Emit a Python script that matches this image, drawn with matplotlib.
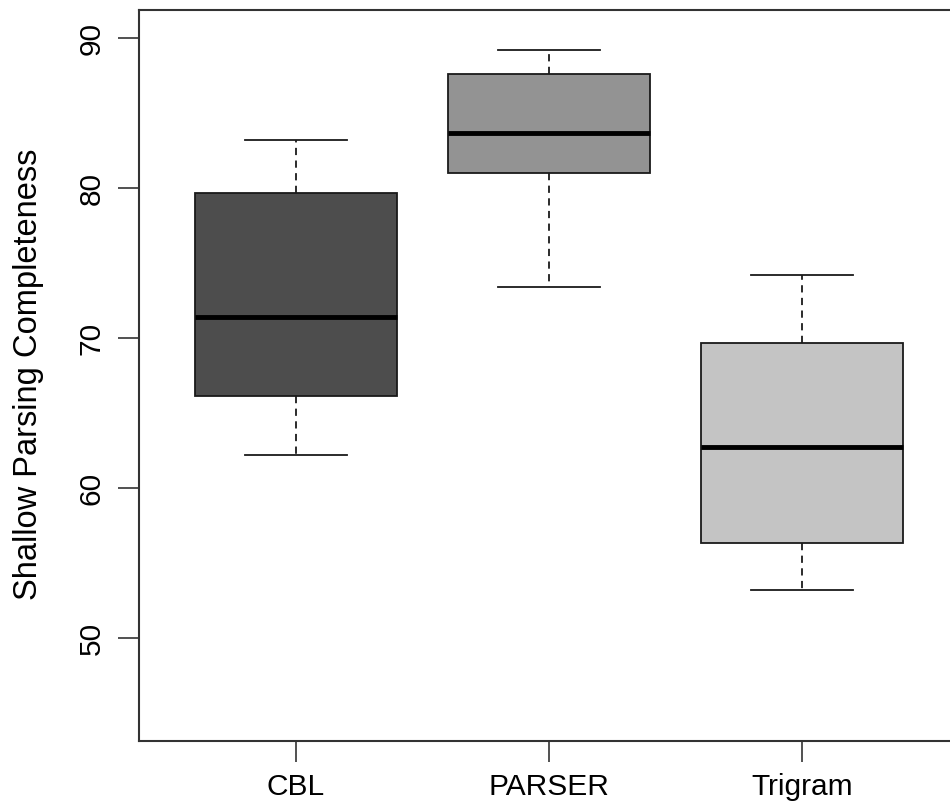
import matplotlib
matplotlib.use("Agg")
import matplotlib.pyplot as plt

# ---------- Data ----------
methods = ["CBL", "PARSER", "Trigram"]
whisker_low = [62.2, 73.4, 53.2]
q1 = [66.1, 81.0, 56.3]
median = [71.4, 83.7, 62.7]
q3 = [79.7, 87.6, 69.7]
whisker_high = [83.2, 89.2, 74.2]
box_colors = ["#4d4d4d", "#939393", "#c4c4c4"]
y_ticks = [50, 60, 70, 80, 90]

plt.rcParams["font.family"] = ["Liberation Sans", "DejaVu Sans"]

stats = []
for i, name in enumerate(methods):
    stats.append({
        "label": name,
        "whislo": whisker_low[i],
        "q1": q1[i],
        "med": median[i],
        "q3": q3[i],
        "whishi": whisker_high[i],
        "fliers": [],
    })

fig = plt.figure(figsize=(9.5, 8.01), dpi=100)
ax = fig.add_axes([139 / 950, 1 - 741 / 801, 820 / 950, 731 / 801])

bp = ax.bxp(
    stats,
    positions=[1, 2, 3],
    widths=0.8,
    patch_artist=True,
    showfliers=False,
    boxprops=dict(edgecolor="#1a1a1a", linewidth=1.3),
    medianprops=dict(color="black", linewidth=3.5, solid_capstyle="butt"),
    whiskerprops=dict(color="#1a1a1a", linewidth=1.3, linestyle=(0, (4, 3))),
    capprops=dict(color="#1a1a1a", linewidth=1.3),
    capwidths=0.4,
)
for patch, col in zip(bp["boxes"], box_colors):
    patch.set_facecolor(col)

ax.set_xlim(0.38, 3.62)
ax.set_ylim(43.13, 91.87)
ax.set_yticks(y_ticks)
ax.set_yticklabels([str(v) for v in y_ticks], rotation=90, va="center")
ax.set_xticks([1, 2, 3])
ax.set_xticklabels(methods)
ax.tick_params(axis="both", direction="out", length=15, width=1.2,
               color="#333333", labelsize=21.5, pad=8)
ax.tick_params(axis="y", pad=9)

for sp in ax.spines.values():
    sp.set_linewidth(1.5)
    sp.set_color("#333333")

ax.set_ylabel("Shallow Parsing Completeness", fontsize=23.5)
ax.yaxis.set_label_coords(-95 / 820, 0.5 + 1.5 / 731)

fig.savefig("out.png", dpi=100)
